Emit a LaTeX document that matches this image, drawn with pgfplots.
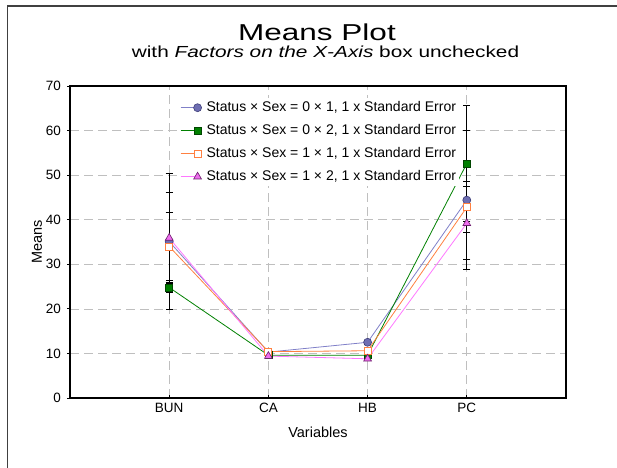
\documentclass[border=0pt]{standalone}
\usepackage{fontspec}
\setmainfont{Liberation Sans}
\newfontfamily\titlefont{Liberation Sans}[FakeStretch=1.37]
\newfontfamily\subfont{Liberation Sans}[FakeStretch=1.30]
\usepackage{pgfplots}
\pgfplotsset{compat=1.18}
\usepackage{pgfplotstable}

\definecolor{blueline}{RGB}{128,128,200}
\definecolor{bluefill}{RGB}{110,110,178}
\definecolor{bluedark}{RGB}{60,60,120}
\definecolor{greenline}{RGB}{0,128,0}
\definecolor{greendark}{RGB}{0,70,0}
\definecolor{orangeline}{RGB}{255,128,64}
\definecolor{pinkline}{RGB}{255,120,255}
\definecolor{pinkfill}{RGB}{238,110,238}
\definecolor{pinkdark}{RGB}{110,30,110}

\pgfplotstableread{
x y e
0 35.1 15.2
1 10.3 0.4
2 12.5 0.5
3 44.4 15.6
}\sA
\pgfplotstableread{
x y e
0 24.8 1.2
1 9.6 0.4
2 9.6 0.4
3 52.6 13.1
}\sB
\pgfplotstableread{
x y e
0 34.0 7.6
1 10.4 0.4
2 10.6 0.4
3 42.8 5.7
}\sC
\pgfplotstableread{
x y e
0 35.9 10.2
1 9.4 0.4
2 8.8 0.4
3 39.2 8.2
}\sD

\begin{document}
\begin{tikzpicture}
\path[use as bounding box] (0bp,0bp) rectangle (617bp,468bp);
\draw[line width=1.5bp, black!75] (7.5bp,-2bp) -- (7.5bp,462bp) -- (619bp,462bp);
\node[anchor=base, inner sep=0pt] at (317bp,427bp) {\titlefont\fontsize{23bp}{26bp}\selectfont Means Plot};
\node[anchor=base, inner sep=0pt] at (325.5bp,410bp) {\subfont\fontsize{16bp}{18bp}\selectfont with \itshape Factors on the X-Axis\upshape{} box unchecked};
\begin{axis}[
  at={(70bp,70bp)}, anchor=south west,
  scale only axis, width=496bp, height=312bp,
  xmin=-1, xmax=4, ymin=0, ymax=70,
  xtick={0,1,2,3}, xticklabels={BUN,CA,HB,PC},
  ytick={0,10,...,70},
  /pgf/number format/assume math mode=true,
  tick label style={font=\fontsize{13.5bp}{15bp}\selectfont},
  xtick pos=lower, ytick pos=left,
  xtick align=inside, ytick align=outside,
  major tick length=3bp,
  tick style={black, line width=0.8bp},
  xticklabel style={inner sep=0pt, anchor=north, yshift=-5bp},
  yticklabel style={inner sep=0pt, anchor=east, xshift=-6bp},
  grid=major,
  major grid style={dash pattern=on 9bp off 5bp, color=black!25, line width=0.7bp},
  axis line style={line width=1.3bp, black},
  xlabel={Variables}, ylabel={Means},
  every axis x label/.style={at={(axis description cs:0.5,-0.109)}, anchor=center, font=\fontsize{14.5bp}{16bp}\selectfont},
  every axis y label/.style={at={(axis description cs:-0.0665,0.5)}, rotate=90, anchor=center, font=\fontsize{14.5bp}{16bp}\selectfont},
  legend style={at={(axis description cs:0.2157,0.9615)}, anchor=north west, draw=none, fill=white,
    inner sep=3bp, row sep=10bp, font=\fontsize{14bp}{16bp}\selectfont,
    nodes={inner sep=0pt, text height=10bp, text depth=3bp},
    /tikz/every odd column/.append style={column sep=5bp}},
  legend cell align=left,
  legend image code/.code={\draw[mark repeat=2, mark phase=2, #1] plot coordinates {(0bp,0bp) (17bp,0bp)};},
  error bars/error bar style={black, line width=1bp},
  error bars/error mark options={black, rotate=90, mark size=3.5bp, line width=1bp},
]
\addplot[color=blueline, line width=0.8bp, mark=*, mark size=4bp,
  mark options={fill=bluefill, draw=bluedark, line width=0.6bp},
  error bars/.cd, y dir=both, y explicit]
  table[x=x, y=y, y error=e] {\sA};
\addlegendentry{Status × Sex = 0 × 1, 1 x Standard Error}
\addplot[color=greenline, line width=0.8bp, mark=square*, mark size=3.5bp,
  mark options={fill=greenline, draw=greendark, line width=0.6bp},
  error bars/.cd, y dir=both, y explicit]
  table[x=x, y=y, y error=e] {\sB};
\addlegendentry{Status × Sex = 0 × 2, 1 x Standard Error}
\addplot[color=orangeline, line width=0.8bp, mark=square*, mark size=3.5bp,
  mark options={fill=white, draw=orangeline, line width=0.9bp},
  error bars/.cd, y dir=both, y explicit]
  table[x=x, y=y, y error=e] {\sC};
\addlegendentry{Status × Sex = 1 × 1, 1 x Standard Error}
\addplot[color=pinkline, line width=0.8bp, mark=triangle*, mark size=4.5bp,
  mark options={fill=pinkfill, draw=pinkdark, line width=0.6bp},
  error bars/.cd, y dir=both, y explicit]
  table[x=x, y=y, y error=e] {\sD};
\addlegendentry{Status × Sex = 1 × 2, 1 x Standard Error}
\end{axis}
\end{tikzpicture}
\end{document}
